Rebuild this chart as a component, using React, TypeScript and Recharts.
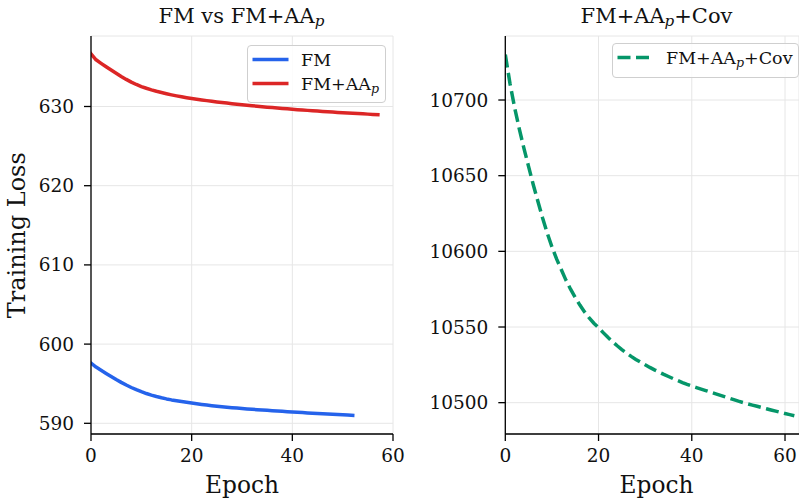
import React from 'react';
import { LineChart, Line, XAxis, YAxis, CartesianGrid, Legend } from 'recharts';

const SERIF = '"DejaVu Serif", serif';
const BLUE = '#2563eb';
const RED = '#dc2626';
const GREEN = '#059669';

// Training loss per epoch (index = epoch)
const fmLoss = [
  597.6, 597.1, 596.7, 596.3, 595.91, 595.53, 595.17, 594.83, 594.52, 594.24,
  593.99, 593.76, 593.56, 593.38, 593.22, 593.08, 592.955, 592.845, 592.745, 592.65,
  592.56, 592.47, 592.385, 592.305, 592.23, 592.16, 592.094, 592.032, 591.974, 591.919,
  591.867, 591.817, 591.769, 591.723, 591.678, 591.634, 591.591, 591.549, 591.508, 591.468,
  591.428, 591.389, 591.351, 591.314, 591.278, 591.242, 591.207, 591.173, 591.139, 591.106,
  591.073, 591.041, 591.009,
];

const fmAALoss = [
  636.65, 635.9, 635.45, 635.02, 634.6, 634.19, 633.79, 633.42, 633.08, 632.78,
  632.52, 632.3, 632.1, 631.92, 631.76, 631.61, 631.47, 631.34, 631.22, 631.11,
  631.01, 630.915, 630.825, 630.74, 630.66, 630.58, 630.505, 630.43, 630.36, 630.29,
  630.225, 630.16, 630.097, 630.036, 629.976, 629.918, 629.862, 629.807, 629.753, 629.701,
  629.651, 629.603, 629.556, 629.51, 629.465, 629.421, 629.378, 629.336, 629.295, 629.255,
  629.216, 629.178, 629.141, 629.105, 629.07, 629.036, 629.003, 628.971,
];

const fmAACovLoss = [
  10730, 10711, 10695, 10681, 10668, 10656, 10644, 10633, 10622, 10612,
  10603, 10595, 10588, 10581, 10575, 10569.5, 10564.5, 10560, 10556, 10552.5,
  10549.5, 10546.3, 10543.2, 10540.3, 10537.6, 10535.1, 10532.8, 10530.6, 10528.6, 10526.8,
  10525, 10523.3, 10521.7, 10520.2, 10518.7, 10517.3, 10515.9, 10514.6, 10513.3, 10512.1,
  10511, 10510, 10509, 10508, 10507, 10506, 10505, 10504, 10503, 10502,
  10501, 10500.1, 10499.2, 10498.4, 10497.6, 10496.8, 10496, 10495.2, 10494.4, 10493.6,
  10492.8, 10492.1, 10491.4,
];

const xTicks = [0, 20, 40, 60];
const leftYTicks = [590, 600, 610, 620, 630];
const rightYTicks = [10500, 10550, 10600, 10650, 10700];

const toRows = (arr: number[]) => arr.map((v, i) => ({ epoch: i, loss: v }));
const fmData = toRows(fmLoss);
const fmAAData = toRows(fmAALoss);
const fmAACovData = toRows(fmAACovLoss);

const tickStyle = { fontFamily: SERIF, fontSize: 18.5, fill: '#111' };
const axisLine = { stroke: '#000', strokeWidth: 1.3 };

const SubName = ({ name }: { name: string }) => {
  if (!name.includes('_p')) return <>{name}</>;
  const parts = name.split('_p');
  return (
    <>
      {parts[0]}
      <tspan fontStyle="italic" fontSize="0.72em" dy={3.5}>p</tspan>
      {parts[1] ? <tspan dy={-3.5}>{parts[1]}</tspan> : null}
    </>
  );
};

const renderLegend = (w: number, h: number, dashedNames: string[]) => (props: any) => {
  const payload = props.payload || [];
  return (
    <svg width={w} height={h} style={{ display: 'block', overflow: 'visible' }}>
      <rect x={0.5} y={0.5} width={w - 1} height={h - 1} rx={3.5} fill="rgba(255,255,255,0.85)" stroke="#cfcfcf" strokeWidth={1} />
      {payload.map((entry: any, i: number) => {
        const y = 14.5 + i * 24;
        const dashed = dashedNames.includes(entry.value);
        return (
          <g key={i}>
            <line x1={5.5} x2={41.5} y1={y} y2={y} stroke={entry.color} strokeWidth={3.5}
              strokeDasharray={dashed ? '13 5.5' : undefined} />
            <text x={54} y={y + 6.3} fontFamily={SERIF} fontSize={17.5} fill="#111">
              <SubName name={entry.value} />
            </text>
          </g>
        );
      })}
    </svg>
  );
};

export default function App() {
  return (
    <div style={{ position: 'absolute', left: 0, top: 0, width: 799, height: 499, background: '#fff', overflow: 'hidden' }}>
      <div style={{ position: 'absolute', left: 0, top: 0 }}>
        <LineChart width={425} height={499} margin={{ top: 36, right: 32, bottom: 35, left: 31 }}>
          <CartesianGrid stroke="#e6e6e6" strokeWidth={1} />
          <XAxis type="number" dataKey="epoch" domain={[0, 60]} ticks={xTicks} allowDataOverflow
            height={30} tick={tickStyle} tickSize={7} tickMargin={8} axisLine={axisLine} tickLine={axisLine} />
          <YAxis type="number" domain={[588.65, 638.9]} ticks={leftYTicks} allowDataOverflow
            width={60} tick={tickStyle} tickSize={7} tickMargin={10} axisLine={axisLine} tickLine={axisLine} />
          <Legend layout="horizontal" verticalAlign="middle" align="center"
            wrapperStyle={{ position: 'absolute', left: 246.5, top: 44.5, width: 139, height: 58 }}
            content={renderLegend(139, 58, [])} />
          <Line data={fmData} dataKey="loss" name="FM" stroke={BLUE} strokeWidth={3.5} dot={false}
            isAnimationActive={false} strokeLinecap="square" strokeLinejoin="round" />
          <Line data={fmAAData} dataKey="loss" name="FM+AA_p" stroke={RED} strokeWidth={3.5} dot={false}
            isAnimationActive={false} strokeLinecap="square" strokeLinejoin="round" />
        </LineChart>
      </div>
      <div style={{ position: 'absolute', left: 400, top: 0 }}>
        <LineChart width={399} height={499} margin={{ top: 36, right: 0, bottom: 35, left: 45.3 }}>
          <CartesianGrid stroke="#e6e6e6" strokeWidth={1} />
          <XAxis type="number" dataKey="epoch" domain={[0, 63]} ticks={xTicks} allowDataOverflow
            height={30} tick={tickStyle} tickSize={7} tickMargin={8} axisLine={axisLine} tickLine={axisLine} />
          <YAxis type="number" domain={[10479.3, 10742.3]} ticks={rightYTicks} allowDataOverflow
            width={60} tick={tickStyle} tickSize={7} tickMargin={10} axisLine={axisLine} tickLine={axisLine} />
          <Legend layout="horizontal" verticalAlign="middle" align="center"
            wrapperStyle={{ position: 'absolute', left: 212, top: 43, width: 187, height: 35 }}
            content={renderLegend(187, 35, ['FM+AA_p+Cov'])} />
          <Line data={fmAACovData} dataKey="loss" name="FM+AA_p+Cov" stroke={GREEN} strokeWidth={3.5}
            strokeDasharray="13 5.5" dot={false} isAnimationActive={false} />
        </LineChart>
      </div>
      <svg width={799} height={499} style={{ position: 'absolute', left: 0, top: 0, pointerEvents: 'none' }}>
        <text x={241.5} y={22.7} textAnchor="middle" fontFamily={SERIF} fontSize={21} fill="#111">
          FM vs <SubName name="FM+AA_p" />
        </text>
        <text x={656.5} y={22.7} textAnchor="middle" fontFamily={SERIF} fontSize={21} fill="#111">
          <SubName name="FM+AA_p+Cov" />
        </text>
        <text x={242} y={493.3} textAnchor="middle" fontFamily={SERIF} fontSize={23.3} fill="#111">Epoch</text>
        <text x={656.5} y={493.3} textAnchor="middle" fontFamily={SERIF} fontSize={23.3} fill="#111">Epoch</text>
        <text x={25.5} y={235.3} textAnchor="middle" transform="rotate(-90 25.5 235.3)" fontFamily={SERIF} fontSize={24} fill="#111">
          Training Loss
        </text>
      </svg>
    </div>
  );
}
